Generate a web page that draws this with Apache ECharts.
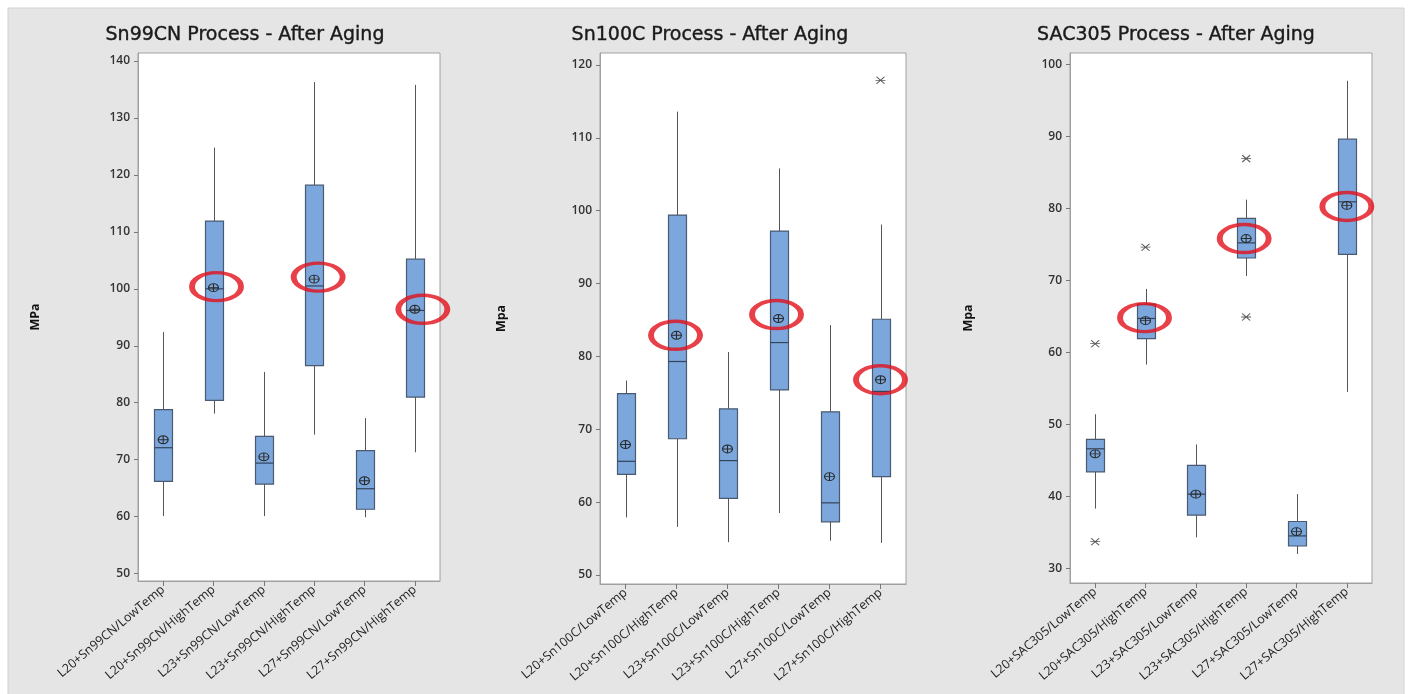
<!DOCTYPE html>
<html>
<head>
<meta charset="utf-8">
<script src="https://cdn.jsdelivr.net/npm/echarts@6/dist/echarts.min.js"></script>
<style>
  html, body { margin: 0; padding: 0; background: #ffffff; }
  #chart { width: 1412px; height: 694px; }
</style>
</head>
<body>
<div id="chart"></div>
<script>
// ---------------- DATA ----------------
const titles = ['Sn99CN Process - After Aging', 'Sn100C Process - After Aging', 'SAC305 Process - After Aging'];
const yNames = ['MPa', 'Mpa', 'Mpa'];

const catsSn99 = ['L20+Sn99CN/LowTemp', 'L20+Sn99CN/HighTemp', 'L23+Sn99CN/LowTemp', 'L23+Sn99CN/HighTemp', 'L27+Sn99CN/LowTemp', 'L27+Sn99CN/HighTemp'];
const catsSn100 = ['L20+Sn100C/LowTemp', 'L20+Sn100C/HighTemp', 'L23+Sn100C/LowTemp', 'L23+Sn100C/HighTemp', 'L27+Sn100C/LowTemp', 'L27+Sn100C/HighTemp'];
const catsSac = ['L20+SAC305/LowTemp', 'L20+SAC305/HighTemp', 'L23+SAC305/LowTemp', 'L23+SAC305/HighTemp', 'L27+SAC305/LowTemp', 'L27+SAC305/HighTemp'];

// Sn99CN
const sn99Min  = [60.1, 78.1, 60.1, 74.4, 59.9, 71.3];
const sn99Q1   = [66.2, 80.4, 65.7, 86.5, 61.3, 81.0];
const sn99Med  = [72.1, 100.0, 69.4, 100.5, 64.9, 96.2];
const sn99Q3   = [78.8, 111.9, 74.1, 118.2, 71.6, 105.2];
const sn99Max  = [92.4, 124.8, 85.4, 136.3, 77.3, 135.8];
const sn99Mean = [73.5, 100.2, 70.5, 101.7, 66.3, 96.4];
const sn99Outliers = [];
const sn99Ticks = [50, 60, 70, 80, 90, 100, 110, 120, 130, 140];

// Sn100C
const sn100Min  = [57.9, 56.6, 54.5, 58.5, 54.7, 54.4];
const sn100Q1   = [63.8, 68.7, 60.5, 75.4, 57.3, 63.5];
const sn100Med  = [65.6, 79.3, 65.7, 81.9, 59.9, 75.2];
const sn100Q3   = [74.9, 99.4, 72.8, 97.2, 72.4, 85.1];
const sn100Max  = [76.7, 113.6, 80.6, 105.8, 84.3, 98.1];
const sn100Mean = [67.9, 82.9, 67.3, 85.2, 63.5, 76.8];
const sn100Outliers = [[5, 117.9]];
const sn100Ticks = [50, 60, 70, 80, 90, 100, 110, 120];

// SAC305
const sacMin  = [38.3, 58.3, 34.3, 70.6, 32.0, 54.5];
const sacQ1   = [43.4, 61.9, 37.4, 73.1, 33.1, 73.6];
const sacMed  = [46.6, 64.7, 40.3, 75.2, 34.5, 80.9];
const sacQ3   = [47.9, 66.7, 44.3, 78.6, 36.5, 89.6];
const sacMax  = [51.4, 68.8, 47.2, 81.2, 40.3, 97.7];
const sacMean = [45.9, 64.4, 40.3, 75.8, 35.1, 80.4];
const sacOutliers = [[0, 61.2], [0, 33.7], [1, 74.6], [3, 86.9], [3, 64.9]];
const sacTicks = [30, 40, 50, 60, 70, 80, 90, 100];

// categories circled in red
const circledIdx = [1, 3, 5];

// ---------------- LAYOUT / STYLE ----------------
const panels = [
  { cats: catsSn99, min: sn99Min, q1: sn99Q1, med: sn99Med, q3: sn99Q3, max: sn99Max, mean: sn99Mean, out: sn99Outliers, ticks: sn99Ticks,
    grid: { left: 138, top: 53, width: 302, height: 528 }, yMin: 48.7, yMax: 141.4, titleX: 240, nameGap: 96,
    ellOff: [[3, -1], [4, -2], [8, 0]] },
  { cats: catsSn100, min: sn100Min, q1: sn100Q1, med: sn100Med, q3: sn100Q3, max: sn100Max, mean: sn100Mean, out: sn100Outliers, ticks: sn100Ticks,
    grid: { left: 600, top: 53, width: 306, height: 531 }, yMin: 48.76, yMax: 121.65, titleX: 705, nameGap: 92,
    ellOff: [[-1, 0], [-2, -4], [0, 0]] },
  { cats: catsSac, min: sacMin, q1: sacQ1, med: sacMed, q3: sacQ3, max: sacMax, mean: sacMean, out: sacOutliers, ticks: sacTicks,
    grid: { left: 1070, top: 53, width: 302, height: 530 }, yMin: 27.96, yMax: 101.57, titleX: 1171, nameGap: 95,
    ellOff: [[-1, -3], [-2, 0], [0, 1]] }
];

const FONT = '"Open Sans", "Noto Sans", sans-serif';
const TITLE_FONT = '"DejaVu Sans", "Open Sans", sans-serif';
const BOX_FILL = '#7ba7dc';
const BOX_EDGE = '#4a5a72';
const WHISKER = '#555555';
const AXIS_GRAY = '#a0a0a0';

const meanSymbol = 'path://M-5,0 A5,4 0 1,1 5,0 A5,4 0 1,1 -5,0 Z M-5,0 L5,0 M0,-4 L0,4';
const starSymbol = 'path://M-5,0 L5,0 M-4,-3 L4,3 M-4,3 L4,-3';

function renderBox(params, api) {
  const x = api.value(0);
  const pLo = api.coord([x, api.value(1)]);
  const pQ1 = api.coord([x, api.value(2)]);
  const pMed = api.coord([x, api.value(3)]);
  const pQ3 = api.coord([x, api.value(4)]);
  const pHi = api.coord([x, api.value(5)]);
  const cx = Math.round(pHi[0]) + 0.5;
  const w = 18;
  return {
    type: 'group',
    children: [
      { type: 'line', shape: { x1: cx, y1: pHi[1], x2: cx, y2: pQ3[1] }, style: { stroke: WHISKER, lineWidth: 1 } },
      { type: 'line', shape: { x1: cx, y1: pQ1[1], x2: cx, y2: pLo[1] }, style: { stroke: WHISKER, lineWidth: 1 } },
      { type: 'rect', shape: { x: cx - w / 2, y: pQ3[1], width: w, height: pQ1[1] - pQ3[1] },
        style: { fill: BOX_FILL, stroke: BOX_EDGE, lineWidth: 1.2 } },
      { type: 'line', shape: { x1: cx - w / 2, y1: pMed[1], x2: cx + w / 2, y2: pMed[1] }, style: { stroke: '#34435a', lineWidth: 1.2 } }
    ]
  };
}

const option = {
  backgroundColor: '#ffffff',
  animation: false,
  graphic: [
    { type: 'rect', shape: { x: 8, y: 8, width: 1396, height: 690 }, style: { fill: '#e5e5e5', stroke: '#d2d2d2', lineWidth: 1 }, z: -10 }
  ],
  title: [], grid: [], xAxis: [], yAxis: [], series: []
};

panels.forEach((p, i) => {
  option.title.push({
    text: titles[i], left: p.titleX, top: 21, textAlign: 'center',
    textStyle: { fontFamily: TITLE_FONT, fontSize: 19, fontWeight: 'normal', color: '#1a1a1a', textBorderColor: '#1a1a1a', textBorderWidth: 0.4 }
  });
  option.grid.push(Object.assign({ show: true, backgroundColor: '#ffffff', borderColor: AXIS_GRAY, borderWidth: 1 }, p.grid));
  option.xAxis.push({
    type: 'category', gridIndex: i, data: p.cats, boundaryGap: true,
    axisLine: { show: true, lineStyle: { color: AXIS_GRAY, width: 1 } },
    axisTick: { show: true, alignWithLabel: true, length: 5, lineStyle: { color: '#777' } },
    axisLabel: { rotate: 40, interval: 0, margin: 7, fontFamily: FONT, fontSize: 12.5, color: '#222' },
    splitLine: { show: false }
  });
  option.yAxis.push({
    type: 'value', gridIndex: i, min: p.yMin, max: p.yMax,
    name: yNames[i], nameLocation: 'middle', nameRotate: 90, nameGap: p.nameGap,
    nameTextStyle: { fontFamily: FONT, fontSize: 12.5, fontWeight: 'bold', color: '#111' },
    axisLine: { show: true, lineStyle: { color: AXIS_GRAY, width: 1 } },
    axisTick: { show: true, length: 4, customValues: p.ticks, lineStyle: { color: '#777' } },
    axisLabel: { customValues: p.ticks, margin: 8, fontFamily: FONT, fontSize: 12, fontWeight: 600, color: '#333' },
    splitLine: { show: false }
  });
  const boxData = p.cats.map((c, k) => [k, p.min[k], p.q1[k], p.med[k], p.q3[k], p.max[k]]);
  option.series.push({
    type: 'custom', xAxisIndex: i, yAxisIndex: i, renderItem: renderBox,
    encode: { x: 0, y: [1, 2, 3, 4, 5] }, data: boxData, z: 2
  });
  option.series.push({
    type: 'scatter', xAxisIndex: i, yAxisIndex: i, symbol: meanSymbol, symbolSize: [10, 8],
    itemStyle: { color: 'rgba(0,0,0,0)', borderColor: '#2b2b2b', borderWidth: 1, opacity: 1 },
    data: p.mean.map((m, k) => [k, m]), z: 4
  });
  option.series.push({
    type: 'scatter', xAxisIndex: i, yAxisIndex: i, symbol: starSymbol, symbolSize: [10, 7],
    itemStyle: { color: 'rgba(0,0,0,0)', borderColor: '#333', borderWidth: 1 },
    data: p.out, z: 4
  });
  option.series.push({
    type: 'scatter', xAxisIndex: i, yAxisIndex: i, symbol: 'circle', clip: false,
    itemStyle: { color: 'rgba(0,0,0,0)', borderColor: '#e2101a', borderWidth: 4.5 },
    data: circledIdx.map((k, j) => ({ value: [k, p.mean[k]], symbolSize: [49, 28], symbolOffset: p.ellOff[j] })),
    z: 6, silent: true
  });
});

const chart = echarts.init(document.getElementById('chart'), null, { renderer: 'canvas' });
chart.setOption(option);
</script>
</body>
</html>
